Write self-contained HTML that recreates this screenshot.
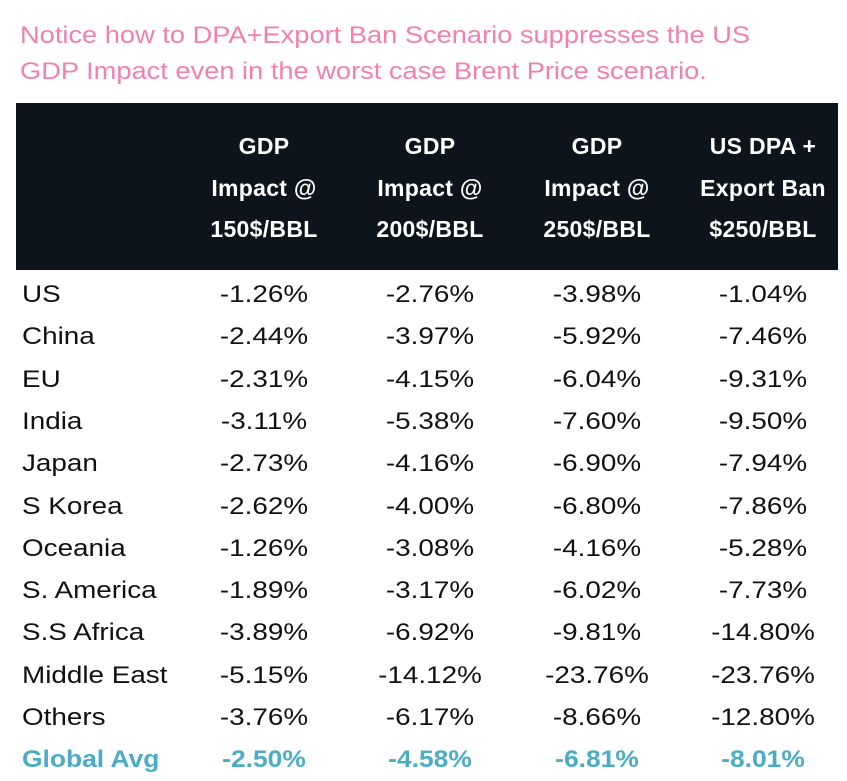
<!DOCTYPE html>
<html><head><meta charset="utf-8">
<style>
html,body{margin:0;padding:0;background:#fff;}
body{width:847px;height:781px;position:relative;overflow:hidden;font-family:"Liberation Sans",Arial,sans-serif;}
.t{position:absolute;left:20px;color:#f37fb0;font-size:24px;white-space:nowrap;transform:scaleX(1.135);transform-origin:left center;}
#hdr{position:absolute;left:16px;top:103px;width:822px;height:167px;background:#0e141b;}
.h{position:absolute;color:#fff;font-weight:bold;font-size:23px;text-align:center;width:170px;line-height:41.5px;top:23px;letter-spacing:0.3px;}
.c{position:absolute;font-size:24px;color:#111;white-space:nowrap;transform:translate(-50%,-50%) scaleX(1.16);}
.l{position:absolute;font-size:24px;color:#111;white-space:nowrap;transform:translateY(-50%) scaleX(1.16);transform-origin:left center;left:22px;}
.c.g{transform:translate(-50%,-50%) scaleX(1.1);}
.l.g{transform:translateY(-50%) scaleX(1.1);}
.g{color:#4bacc6;font-weight:bold;}
</style></head><body>
<div class="t" style="top:22px">Notice how to DPA+Export Ban Scenario suppresses the US</div>
<div class="t" style="top:58px">GDP Impact even in the worst case Brent Price scenario.</div>
<div id="hdr">
<div class="h" style="left:163px">GDP<br>Impact @<br>150$/BBL</div>
<div class="h" style="left:329px">GDP<br>Impact @<br>200$/BBL</div>
<div class="h" style="left:496px">GDP<br>Impact @<br>250$/BBL</div>
<div class="h" style="left:662px">US DPA +<br>Export Ban<br>$250/BBL</div>
</div>
<div id="body"></div>
<script>
const regions=["US","China","EU","India","Japan","S Korea","Oceania","S. America","S.S Africa","Middle East","Others","Global Avg"];
const impact150=["-1.26%","-2.44%","-2.31%","-3.11%","-2.73%","-2.62%","-1.26%","-1.89%","-3.89%","-5.15%","-3.76%","-2.50%"];
const impact200=["-2.76%","-3.97%","-4.15%","-5.38%","-4.16%","-4.00%","-3.08%","-3.17%","-6.92%","-14.12%","-6.17%","-4.58%"];
const impact250=["-3.98%","-5.92%","-6.04%","-7.60%","-6.90%","-6.80%","-4.16%","-6.02%","-9.81%","-23.76%","-8.66%","-6.81%"];
const impactDpa=["-1.04%","-7.46%","-9.31%","-9.50%","-7.94%","-7.86%","-5.28%","-7.73%","-14.80%","-23.76%","-12.80%","-8.01%"];
const cols=[impact150,impact200,impact250,impactDpa];
const colX=[264,430,597,763];
const body=document.getElementById('body');
regions.forEach((r,i)=>{
  const y=295+i*42.3;
  const last=i===regions.length-1;
  const lab=document.createElement('div');
  lab.className='l'+(last?' g':'');
  lab.style.top=y+'px';
  lab.textContent=r;
  
  
  body.appendChild(lab);
  cols.forEach((c,j)=>{
    const d=document.createElement('div');
    d.className='c'+(last?' g':'');
    d.style.left=colX[j]+'px';
    d.style.top=y+'px';
    d.textContent=c[i];
    
    
    body.appendChild(d);
  });
});
</script>
</body></html>
